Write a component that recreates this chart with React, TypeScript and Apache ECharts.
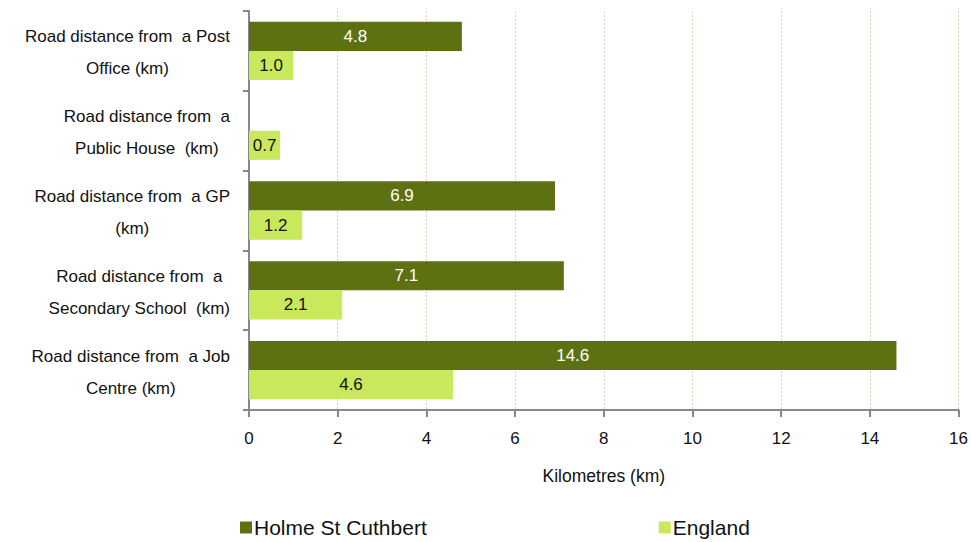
import React, { useEffect, useRef } from "react";
import * as echarts from "echarts";

const categories = [
  "Road distance from  a Post\nOffice (km)",
  "Road distance from  a\nPublic House  (km)",
  "Road distance from  a GP\n(km)",
  "Road distance from  a\nSecondary School  (km)",
  "Road distance from  a Job\nCentre (km)",
];
const holme: (number | null)[] = [4.8, null, 6.9, 7.1, 14.6];
const england: number[] = [1.0, 0.7, 1.2, 2.1, 4.6];
const xTicks = { min: 0, max: 16, interval: 2 };

export default function App() {
  const ref = useRef<HTMLDivElement>(null);
  useEffect(() => {
    if (!ref.current) return;
    const chart = echarts.init(ref.current, null, { renderer: "svg" });
    const font = "Liberation Sans, Arial, sans-serif";
    chart.setOption({
      animation: false,
      textStyle: { fontFamily: font },
      grid: { left: 249, right: 12, top: 11, bottom: 132, containLabel: false },
      legend: {
        left: 235,
        top: 512,
        itemWidth: 12,
        itemHeight: 12,
        itemGap: 232,
        icon: "rect",
        textStyle: { fontSize: 21, color: "#111", fontFamily: font, padding: [0, 0, 0, -3] },
        data: ["Holme St Cuthbert", "England"],
      },
      xAxis: {
        type: "value",
        min: xTicks.min,
        max: xTicks.max,
        interval: xTicks.interval,
        name: "Kilometres (km)",
        nameLocation: "middle",
        nameGap: 57,
        nameTextStyle: { fontSize: 17.5, color: "#111", fontFamily: font },
        axisLine: { show: true, lineStyle: { color: "#888", width: 2 } },
        axisTick: { show: true, length: 7, lineStyle: { color: "#888", width: 2 } },
        axisLabel: { fontSize: 17, color: "#111", margin: 20, fontFamily: font },
        splitLine: { show: true, lineStyle: { color: "#d8d2ae", type: [2, 2], width: 1 } },
      },
      yAxis: {
        type: "category",
        inverse: true,
        data: categories,
        axisLine: { show: true, lineStyle: { color: "#888", width: 2 } },
        axisTick: { show: true, length: 6, alignWithLabel: false, lineStyle: { color: "#888", width: 2 } },
        axisLabel: {
          margin: 19,
          align: "right",
          color: "#111",
          fontSize: 17,
          lineHeight: 32,
          fontFamily: font,
          padding: [4, 0, 0, 0],
          formatter: (v: string) =>
            v
              .split("\n")
              .map((l) => `{a|${l}}`)
              .join("\n"),
          rich: {
            a: { align: "center", fontSize: 17, lineHeight: 32, color: "#111", fontFamily: font },
          },
        },
        splitLine: { show: false },
      },
      series: [
        {
          name: "Holme St Cuthbert",
          type: "bar",
          data: holme,
          barGap: "0%",
          barCategoryGap: "27%",
          itemStyle: { color: "#5e7112" },
          label: {
            show: true,
            position: "inside",
            color: "#fff",
            fontSize: 17,
            fontFamily: font,
            formatter: (p: any) => (p.value == null ? "" : Number(p.value).toFixed(1)),
          },
        },
        {
          name: "England",
          type: "bar",
          data: england,
          barGap: "0%",
          barCategoryGap: "27%",
          itemStyle: { color: "#c9e85b" },
          label: {
            show: true,
            position: "inside",
            color: "#111",
            fontSize: 17,
            fontFamily: font,
            formatter: (p: any) => Number(p.value).toFixed(1),
          },
        },
      ],
    });
    return () => chart.dispose();
  }, []);
  return <div ref={ref} style={{ width: 971, height: 542, position: "absolute", left: 0, top: 0 }} />;
}
